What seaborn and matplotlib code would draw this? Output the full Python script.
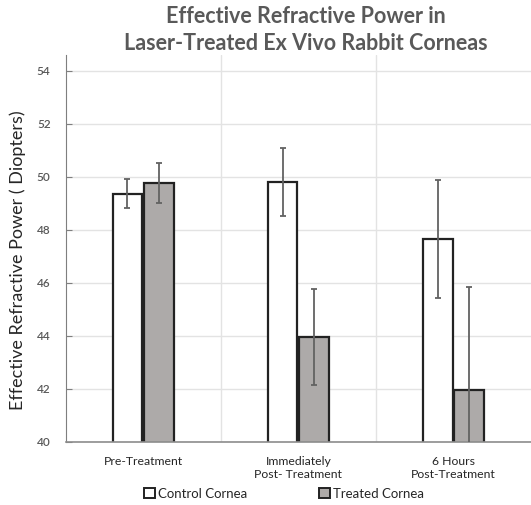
import numpy as np
import pandas as pd
import matplotlib
matplotlib.use('Agg')
import matplotlib.pyplot as plt
import seaborn as sns
from matplotlib.patches import Patch

# --- DATOS ---
grupos = ['Pre-Treatment', 'Immediately\nPost- Treatment', '6 Hours\nPost-Treatment']
series = ['Control Cornea', 'Treated Cornea']
control = [49.36, 49.82, 47.66]
control_err = [0.55, 1.28, 2.23]
treated = [49.77, 43.96, 41.96]
treated_err = [0.77, 1.81, 3.89]

df = pd.DataFrame({
    'grupo': grupos * 2,
    'serie': [series[0]] * 3 + [series[1]] * 3,
    'valor': control + treated,
})

sns.set_style('white')
plt.rcParams['font.family'] = ['Lato', 'DejaVu Sans']

colores = {series[0]: 'white', series[1]: '#aeaaa8'}

fig = plt.figure(figsize=(5.31, 5.05), dpi=100)
ax = fig.add_axes([0.124, 0.125, 0.876, 0.766])

sns.barplot(data=df, x='grupo', y='valor', hue='serie', order=grupos,
            hue_order=series, palette=colores, width=0.41, gap=0.06,
            edgecolor='#222222', linewidth=1.6, errorbar=None,
            legend=False, ax=ax)

# Barras de error
errs = [control_err, treated_err]
for cont, e in zip(ax.containers, errs):
    xs = [p.get_x() + p.get_width() / 2 for p in cont]
    ys = [p.get_height() for p in cont]
    ax.errorbar(xs, ys, yerr=e, fmt='none', ecolor='#626262',
                elinewidth=1.3, capsize=2.5, capthick=1.3, zorder=5)

# Ejes
ax.set_ylim(40, 54.6)
ax.set_xlim(-0.5, 2.5)
ax.set_yticks(np.arange(40, 55, 2))
ax.tick_params(axis='y', labelsize=8.5, labelcolor='#595959', length=4,
               color='#7f7f7f', left=True, direction='in', pad=11)
for t in ax.get_yticklabels():
    t.set_fontweight('semibold')
ax.tick_params(axis='x', labelsize=8.8, length=0, pad=10)
ax.set_xlabel('')
ax.set_ylabel('Effective Refractive Power ( Diopters)', fontsize=13)
ax.yaxis.set_label_coords(-0.085, 0.47)

# Cuadrícula
ax.grid(axis='y', color='#e3e3e3', linewidth=1)
for xv in [0.5, 1.5]:
    ax.axvline(xv, color='#e3e3e3', linewidth=1, zorder=0)
ax.set_axisbelow(True)

sns.despine(ax=ax, top=True, right=True)
ax.spines['left'].set_color('#7f7f7f')
ax.spines['bottom'].set_color('#8c8c8c')
ax.spines['bottom'].set_linewidth(1.2)

# Título
fig.text(0.576, 0.988, 'Effective Refractive Power in\nLaser-Treated Ex Vivo Rabbit Corneas',
         ha='center', va='top', fontsize=15.5, fontweight='bold', color='#595959',
         linespacing=1.35)

# Leyenda
handles = [Patch(facecolor=colores[s], edgecolor='#222222', linewidth=1.4) for s in series]
fig.legend(handles, series, loc='center', bbox_to_anchor=(0.535, 0.022), ncol=2,
           frameon=False, fontsize=9.5, handlelength=0.8, handleheight=0.8,
           handletextpad=0.2, columnspacing=5.5)

fig.savefig('out.png', dpi=100)
